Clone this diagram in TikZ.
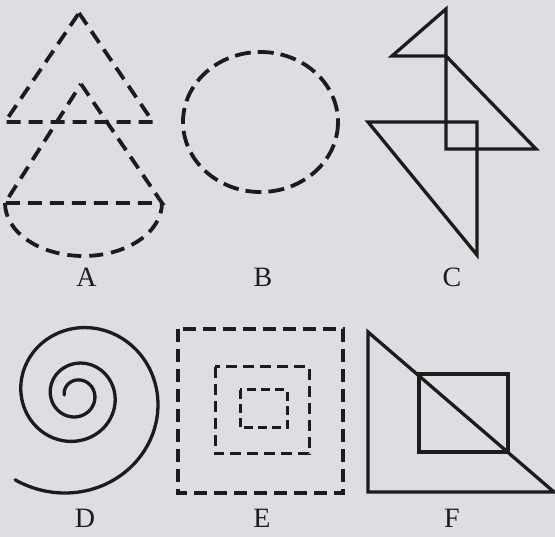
\documentclass[tikz,border=0pt]{standalone}
\usepackage{fontspec}
\setmainfont{Liberation Serif}
\definecolor{bg}{RGB}{221,222,225}
\definecolor{ink}{RGB}{28,28,28}
\tikzset{
  shp/.style={draw=ink, line width=3.3pt, line join=miter},
  dsh/.style={shp, line width=3.8pt, dash pattern=on 14pt off 8pt},
  dshs/.style={shp, line width=3pt, dash pattern=on 9pt off 5pt},
  lbl/.style={font=\fontsize{28}{32}\selectfont, text=ink, inner sep=0pt}
}
\begin{document}
\begin{tikzpicture}[x=1pt,y=-1pt]
\fill[bg] (0,0) rectangle (555,537);
\useasboundingbox (0,0) rectangle (555,537);
% A
\draw[dsh] (79,13) -- (153,122) -- (5,122) -- cycle;
\draw[dsh] (81,84) -- (162,203) -- (5,203) -- cycle;
\draw[dsh] (5,203) arc[start angle=180, end angle=0, x radius=78.5, y radius=53];
% B
\draw[dsh, dash pattern=on 16pt off 7pt] (260.5,122) ellipse[x radius=77.5, y radius=70];
% C
\draw[shp] (446,9) -- (392,56) -- (446,56) -- cycle;
\draw[shp] (446,56) -- (536,149) -- (446,149) -- cycle;
\draw[shp] (368,122) -- (477,122) -- (477,255) -- cycle;
% D
\draw[shp, line cap=round] plot[domain=180:-846, samples=400, smooth]
  ({76.7+15*exp(0.187*(90-\x)/90)*cos(\x)}, {395-15*exp(0.187*(90-\x)/90)*sin(\x)});
% E
\draw[dsh, line width=3.1pt, dash pattern=on 13pt off 7pt] (178,329) rectangle (343,493);
\draw[dshs, dash pattern=on 11pt off 6pt] (215,367) rectangle (309,454);
\draw[dshs] (240,390) rectangle (287,428);
% F
\draw[shp] (368,332) -- (368,492) -- (554,492) -- cycle;
\draw[shp] (419,374) rectangle (508,452);
% labels
\node[lbl] (la) at (86.5,277) {A};
\node[lbl] (lb) at (263,277) {B};
\node[lbl] (lc) at (452,277) {C};
\node[lbl] (ld) at (85,518) {D};
\node[lbl] (le) at (262,518) {E};
\node[lbl] (lf) at (452,518) {F};
\end{tikzpicture}
\end{document}
